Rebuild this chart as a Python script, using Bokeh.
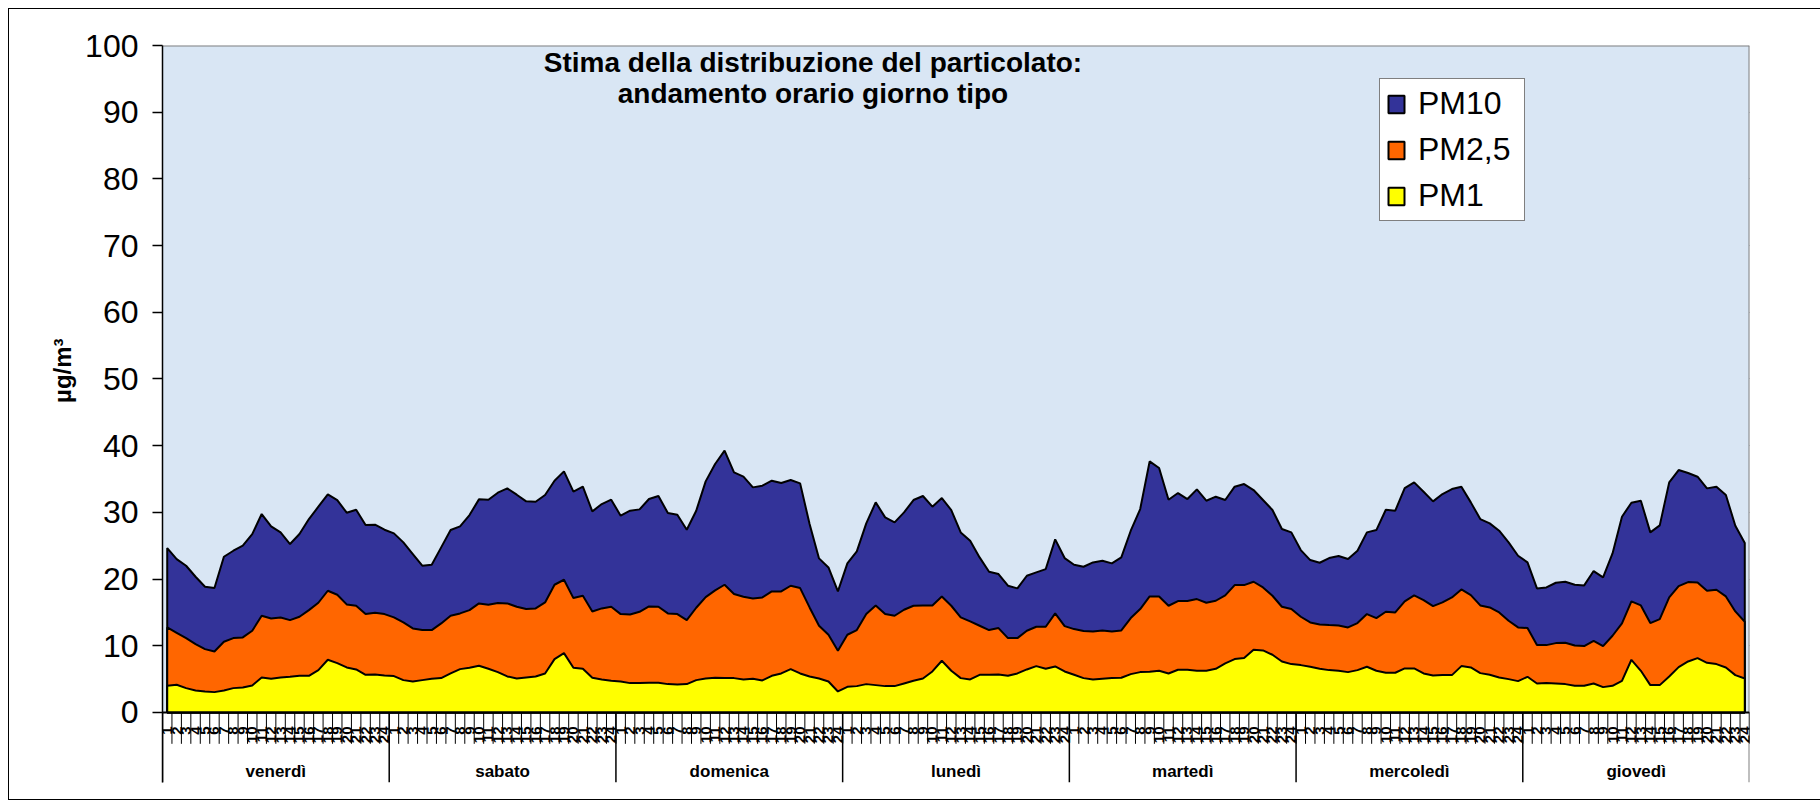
import math
from bokeh.plotting import figure
from bokeh.models import FixedTicker, Range1d, Label, ColumnDataSource, Legend, LegendItem
from bokeh.core.properties import value
from bokeh.embed import file_html
from bokeh.resources import INLINE

days = ["venerdì", "sabato", "domenica", "lunedì", "martedì", "mercoledì", "giovedì"]
hours = [str(h) for h in range(1, 25)]
y_ticks = list(range(0, 101, 10))

pm10 = [
    24.65, 23.0, 22.0, 20.35, 18.85, 18.65, 23.35, 24.25, 25.0, 26.75, 29.75, 27.9, 27.0, 25.25, 26.75, 29.0, 30.85, 32.7, 31.85, 29.95, 30.4, 28.1, 28.15, 27.4,
    26.85, 25.5, 23.75, 22.0, 22.15, 24.75, 27.35, 27.9, 29.6, 31.95, 31.9, 32.95, 33.6, 32.65, 31.65, 31.6, 32.6, 34.75, 36.15, 33.1, 33.85, 30.15, 31.25, 31.9,
    29.5, 30.25, 30.45, 32.0, 32.45, 29.9, 29.65, 27.4, 30.25, 34.65, 37.25, 39.25, 36.0, 35.35, 33.75, 34.0, 34.75, 34.4, 34.85, 34.35, 28.25, 23.1, 21.75, 18.15,
    22.35, 24.15, 28.35, 31.5, 29.25, 28.5, 30.0, 31.85, 32.45, 30.85, 32.15, 30.35, 27.0, 25.75, 23.25, 21.1, 20.75, 19.0, 18.6, 20.5, 21.0, 21.5, 25.95, 23.15,
    22.15, 21.85, 22.5, 22.75, 22.35, 23.25, 27.25, 30.5, 37.65, 36.65, 31.9, 32.9, 32.0, 33.45, 31.75, 32.35, 31.85, 33.85, 34.25, 33.35, 31.85, 30.35, 27.5, 27.0,
    24.35, 22.85, 22.45, 23.15, 23.45, 23.0, 24.25, 27.0, 27.35, 30.4, 30.25, 33.65, 34.5, 33.1, 31.65, 32.75, 33.5, 33.85, 31.5, 29.0, 28.35, 27.25, 25.5, 23.5,
    22.5, 18.6, 18.75, 19.45, 19.6, 19.15, 19.05, 21.2, 20.25, 23.85, 29.35, 31.45, 31.75, 27.0, 28.05, 34.5, 36.35, 35.9, 35.35, 33.6, 33.85, 32.6, 28.0, 25.4,
]
pm25 = [
    12.75, 11.95, 11.15, 10.25, 9.5, 9.15, 10.6, 11.15, 11.25, 12.25, 14.5, 14.1, 14.25, 13.85, 14.35, 15.35, 16.45, 18.25, 17.65, 16.2, 16.0, 14.75, 14.95, 14.75,
    14.25, 13.5, 12.6, 12.35, 12.35, 13.35, 14.5, 14.85, 15.35, 16.35, 16.15, 16.4, 16.35, 15.85, 15.5, 15.6, 16.5, 19.15, 19.9, 17.15, 17.5, 15.15, 15.6, 15.85,
    14.75, 14.7, 15.1, 15.9, 15.85, 14.85, 14.75, 13.85, 15.7, 17.3, 18.3, 19.15, 17.75, 17.35, 17.1, 17.25, 18.15, 18.15, 19.0, 18.65, 15.75, 13.0, 11.65, 9.25,
    11.65, 12.35, 14.75, 16.05, 14.75, 14.5, 15.4, 16.0, 16.05, 16.05, 17.4, 16.0, 14.25, 13.65, 13.0, 12.35, 12.65, 11.15, 11.15, 12.25, 12.85, 12.85, 14.85, 12.95,
    12.5, 12.2, 12.15, 12.3, 12.15, 12.3, 14.15, 15.5, 17.4, 17.4, 16.0, 16.7, 16.7, 17.0, 16.45, 16.75, 17.55, 19.1, 19.1, 19.6, 18.75, 17.5, 15.85, 15.5,
    14.35, 13.5, 13.2, 13.1, 13.05, 12.75, 13.4, 14.75, 14.15, 15.1, 15.0, 16.65, 17.55, 16.85, 15.95, 16.5, 17.25, 18.45, 17.6, 16.05, 15.75, 15.0, 13.75, 12.75,
    12.65, 10.1, 10.1, 10.4, 10.45, 10.05, 9.95, 10.75, 9.95, 11.5, 13.35, 16.65, 16.05, 13.4, 14.0, 17.25, 18.95, 19.55, 19.5, 18.25, 18.4, 17.4, 15.15, 13.6,
]
pm1 = [
    4.0, 4.15, 3.65, 3.3, 3.15, 3.05, 3.3, 3.65, 3.75, 4.05, 5.25, 5.05, 5.25, 5.35, 5.5, 5.5, 6.35, 7.9, 7.4, 6.75, 6.45, 5.65, 5.7, 5.55,
    5.45, 4.85, 4.65, 4.85, 5.05, 5.15, 5.85, 6.5, 6.7, 7.0, 6.55, 6.05, 5.4, 5.1, 5.25, 5.4, 5.85, 8.0, 8.9, 6.7, 6.55, 5.2, 4.95, 4.75,
    4.65, 4.4, 4.4, 4.45, 4.45, 4.25, 4.2, 4.25, 4.85, 5.1, 5.2, 5.15, 5.15, 4.95, 5.05, 4.8, 5.5, 5.85, 6.5, 5.85, 5.4, 5.1, 4.65, 3.15,
    3.85, 3.95, 4.25, 4.1, 3.95, 3.95, 4.35, 4.75, 5.1, 6.15, 7.75, 6.25, 5.15, 4.95, 5.65, 5.65, 5.7, 5.5, 5.85, 6.45, 6.95, 6.55, 6.9, 6.15,
    5.65, 5.15, 4.95, 5.05, 5.15, 5.2, 5.75, 6.05, 6.1, 6.25, 5.85, 6.4, 6.4, 6.25, 6.25, 6.55, 7.35, 8.0, 8.15, 9.4, 9.3, 8.65, 7.65, 7.25,
    7.1, 6.85, 6.55, 6.35, 6.25, 6.05, 6.35, 6.85, 6.25, 5.95, 5.95, 6.6, 6.6, 5.85, 5.55, 5.6, 5.6, 6.95, 6.75, 5.9, 5.65, 5.25, 5.0, 4.7,
    5.35, 4.35, 4.4, 4.35, 4.25, 4.0, 4.0, 4.35, 3.8, 4.0, 4.75, 7.9, 6.25, 4.1, 4.1, 5.4, 6.8, 7.65, 8.15, 7.45, 7.25, 6.75, 5.6, 5.1,
]

series_names = ["PM10", "PM2,5", "PM1"]
series_colors = ["#333399", "#FF6600", "#FFFF00"]

FONT = "Liberation Sans"
n = len(days) * len(hours)
xs = [i + 0.5 for i in range(n)]

p = figure(
    output_backend="svg", toolbar_location=None,
    x_range=Range1d(0, n), y_range=Range1d(-10.5, 100),
    x_axis_location=None,
    frame_width=1587, frame_height=737,
    min_border_left=153, min_border_right=73, min_border_top=36, min_border_bottom=17,
)
p.styles = {"border": "1px solid #000000", "margin-left": "8px", "margin-top": "8px"}
p.background_fill_color = "white"
p.border_fill_color = "white"
p.outline_line_color = None

# plot area background
p.quad(left=0, right=n, bottom=0, top=100, fill_color="#d9e6f4", line_color=None)

# y axis
p.yaxis.ticker = FixedTicker(ticks=y_ticks)
p.yaxis.major_label_text_font = FONT
p.yaxis.major_label_text_font_size = "32px"
p.yaxis.major_label_text_color = "black"
p.yaxis.major_tick_out = 10
p.yaxis.major_tick_in = 0
p.yaxis.minor_tick_line_color = None
p.yaxis.major_label_standoff = 14
p.yaxis.axis_line_color = "black"
p.yaxis.axis_line_width = 1.5
p.yaxis.major_tick_line_color = "black"
p.yaxis.major_tick_line_width = 1.5
p.yaxis.axis_label = "\u00a0" * 13 + "µg/m³"
p.yaxis.axis_label_text_font = FONT
p.yaxis.axis_label_text_font_size = "24px"
p.yaxis.axis_label_text_font_style = "bold"
p.yaxis.axis_label_text_color = "black"
p.yaxis.axis_label_standoff = 6
p.ygrid.grid_line_color = "#222222"
p.ygrid.grid_line_width = 1
p.xgrid.grid_line_color = None

# areas
renderers = []
for vals, name, color in zip([pm10, pm25, pm1], series_names, series_colors):
    r = p.patch(x=[xs[0]] + xs + [xs[-1]], y=[0] + vals + [0],
                fill_color=color, line_color="black", line_width=2)
    renderers.append((name, r))

# top and right border of plot area
p.segment(x0=[0], y0=[100], x1=[n], y1=[100], line_color="#808080", line_width=2)
p.segment(x0=[n], y0=[100], x1=[n], y1=[-10.5], line_color="#808080", line_width=2)
p.segment(x0=[0], y0=[0], x1=[n], y1=[0], line_color="black", line_width=2)

# category axis: hour ticks, day separators, labels
p.segment(x0=list(range(n + 1)), y0=[0] * (n + 1), x1=list(range(n + 1)), y1=[-4.7] * (n + 1),
          line_color="black", line_width=1)
sep_x = [24 * d for d in range(len(days) + 1)]
p.segment(x0=sep_x[:-1], y0=[0] * len(days), x1=sep_x[:-1], y1=[-10.5] * len(days),
          line_color="black", line_width=1.5)

hour_src = ColumnDataSource(dict(x=xs, t=[h for d in days for h in hours]))
p.text(x="x", y=-2.1, text="t", source=hour_src, angle=math.pi / 2,
       text_align="right", text_baseline="middle",
       text_font=value(FONT), text_font_size="15px", text_font_style="bold", text_color="black")

day_src = ColumnDataSource(dict(x=[24 * d + 12 for d in range(len(days))], t=days))
p.text(x="x", y=-8.8, text="t", source=day_src, text_align="center", text_baseline="middle",
       text_font=value(FONT), text_font_size="17px", text_font_style="bold", text_color="black")

# title inside plot
for txt, yy in [("Stima della distribuzione del particolato:", 97.5), ("andamento orario giorno tipo", 92.8)]:
    p.add_layout(Label(x=68.86, y=yy, text=txt, text_align="center", text_baseline="alphabetic",
                       text_font=FONT, text_font_size="28px", text_font_style="bold", text_color="black"))

legend = Legend(items=[LegendItem(label=nm, renderers=[r]) for nm, r in renderers],
                location=(1217, 561))
legend.label_text_font = FONT
legend.label_text_font_size = "32px"
legend.label_text_color = "black"
legend.glyph_width = 20
legend.glyph_height = 22
legend.label_standoff = 12
legend.label_width = 100
legend.spacing = 9
legend.padding = 6
legend.margin = 0
legend.border_line_color = "black"
legend.border_line_width = 1
legend.background_fill_color = "white"
legend.background_fill_alpha = 1
p.add_layout(legend)

open("out.html", "w").write(file_html(p, INLINE))
